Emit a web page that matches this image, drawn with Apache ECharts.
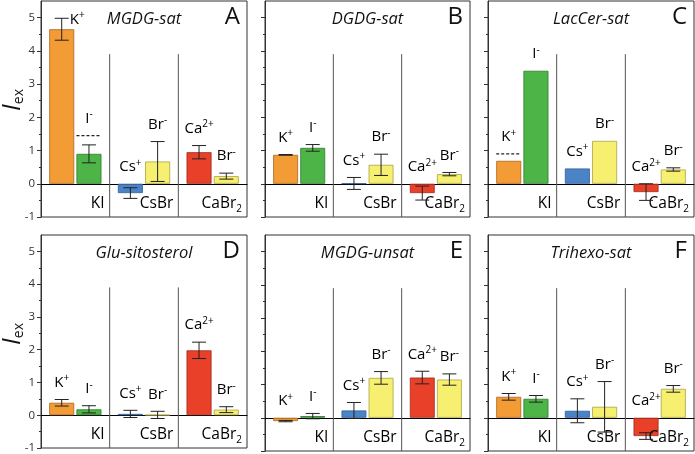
<!DOCTYPE html>
<html><head><meta charset="utf-8">
<script src="https://cdn.jsdelivr.net/npm/echarts@6/dist/echarts.min.js"></script>
<style>html,body{margin:0;padding:0;background:#fff}#c{width:695px;height:454px}</style>
</head><body><div id="c"></div>
<script>
// ---------- data ----------
const panels = ['MGDG-sat','DGDG-sat','LacCer-sat','Glu-sitosterol','MGDG-unsat','Trihexo-sat'];
const letters = ['A','B','C','D','E','F'];
const salts = ['KI','CsBr','CaBr2'];
const cations = ['K+','Cs+','Ca2+'];
const anions = ['I-','Br-','Br-'];
const cationVals = [
  [4.65, -0.28, 0.95],
  [0.87, 0.01, -0.28],
  [0.69, 0.46, -0.25],
  [0.38, 0.04, 1.98],
  [-0.10, 0.22, 1.21],
  [0.63, 0.21, -0.55]
];
const cationErr = [
  [0.33, 0.16, 0.20],
  [0.01, 0.18, 0.21],
  [0, 0, 0.25],
  [0.10, 0.11, 0.25],
  [0.02, 0.24, 0.19],
  [0.10, 0.36, 0.10]
];
const anionVals = [
  [0.90, 0.67, 0.23],
  [1.08, 0.57, 0.29],
  [3.40, 1.29, 0.43],
  [0.18, 0.01, 0.17],
  [0.05, 1.20, 1.15],
  [0.57, 0.33, 0.87]
];
const anionErr = [
  [0.27, 0.60, 0.09],
  [0.10, 0.32, 0.05],
  [0, 0, 0.05],
  [0.11, 0.11, 0.09],
  [0.08, 0.19, 0.17],
  [0.10, 0.76, 0.10]
];
const cationDashed = [[null,null,null],[null,null,null],[0.90,null,null],[null,null,null],[null,null,null],[null,null,null]];
const anionDashed  = [[1.45,null,null],[null,null,null],[null,null,null],[null,null,null],[null,null,null],[null,null,null]];
const yTicks = [-1, 0, 1, 2, 3, 4, 5];

// ---------- style ----------
const FONT = '"Open Sans", "Noto Sans", sans-serif';
const cationColors = ['#F39B35', '#4A84C7', '#E9402A'];
const cationBorders = ['#a8661f', '#34609a', '#a0291a'];
const anionColors = ['#4DB548', '#F6EF70', '#F6EF70'];
const anionBorders = ['#2f7a2c', '#aaa344', '#aaa344'];
const Y_MIN = -1, Y_MAX = 5.5, SEP_TOP = 3.9, GROUP_LABEL_Y = -0.6;
const BAR_FRAC = 0.364, GAP_FRAC = 0.09;
const colLeft = [41, 265, 488], colWidth = [206, 205, 206];
const rowTop = [1, 235], rowHeight = 216;

function ionRich(s) {
  const m = s.match(/^([A-Za-z]+)(.*)$/);
  return '{b|' + m[1] + '}{p|' + m[2] + '}';
}
function saltRich(s) {
  const m = s.match(/^([A-Za-z]+)(\d*)$/);
  return '{g|' + m[1] + '}' + (m[2] ? '{s|' + m[2] + '}' : '');
}
const ionRichStyle = {
  b: {fontSize: 15, fontFamily: FONT, color: '#111', lineHeight: 18},
  p: {fontSize: 10, fontFamily: FONT, color: '#111', verticalAlign: 'top', lineHeight: 18}
};
const saltRichStyle = {
  g: {fontSize: 15.5, fontFamily: FONT, color: '#111', lineHeight: 20},
  s: {fontSize: 10, fontFamily: FONT, color: '#111', verticalAlign: 'bottom', lineHeight: 17}
};

function makeRender(p) {
  return function (params, api) {
    const c = params.dataIndex;
    const center = api.coord([c, 0]);
    const catW = api.size([1, 0])[0];
    const barW = catW * BAR_FRAC, gapW = barW * GAP_FRAC;
    const off = (barW + gapW) / 2;
    const ch = [];
    if (c > 0) {
      const x = center[0] - catW / 2;
      ch.push({type: 'line', shape: {x1: x, y1: api.coord([c, SEP_TOP])[1], x2: x, y2: api.coord([c, Y_MIN])[1]},
        style: {stroke: '#555', lineWidth: 1}});
    }
    ch.push({type: 'text', x: center[0] + catW / 2 - 5, y: api.coord([c, GROUP_LABEL_Y])[1],
      style: {text: saltRich(salts[c]), rich: saltRichStyle, align: 'right', verticalAlign: 'middle'}});
    [0, 1].forEach(function (side) {
      const v = side ? anionVals[p][c] : cationVals[p][c];
      const e = side ? anionErr[p][c] : cationErr[p][c];
      const d = side ? anionDashed[p][c] : cationDashed[p][c];
      const name = side ? anions[c] : cations[c];
      const xc = center[0] + (side ? off : -off);
      if (e > 0) {
        const yt = api.coord([c, v + e])[1], yb = api.coord([c, v - e])[1];
        const cw = 7;
        ch.push({type: 'line', shape: {x1: xc, y1: yt, x2: xc, y2: yb}, style: {stroke: '#222', lineWidth: 1}});
        ch.push({type: 'line', shape: {x1: xc - cw, y1: yt, x2: xc + cw, y2: yt}, style: {stroke: '#222', lineWidth: 1}});
        ch.push({type: 'line', shape: {x1: xc - cw, y1: yb, x2: xc + cw, y2: yb}, style: {stroke: '#222', lineWidth: 1}});
      }
      if (d != null) {
        const yd = api.coord([c, d])[1];
        ch.push({type: 'line', shape: {x1: xc - barW / 2, y1: yd, x2: xc + barW / 2, y2: yd},
          style: {stroke: '#222', lineWidth: 1.3, lineDash: [3, 2]}});
      }
      let top = Math.max(0, v, v + e);
      if (d != null) top = Math.max(top, d);
      if (top > 4.5) {
        ch.push({type: 'text', x: xc + 8, y: api.coord([c, v + e])[1] + 1,
          style: {text: ionRich(name), rich: ionRichStyle, align: 'left', verticalAlign: 'middle'}});
      } else {
        ch.push({type: 'text', x: xc, y: api.coord([c, top])[1] - 17,
          style: {text: ionRich(name), rich: ionRichStyle, align: 'center', verticalAlign: 'middle'}});
      }
    });
    return {type: 'group', children: ch};
  };
}

const grid = [], xAxis = [], yAxis = [], series = [], graphic = [];
for (let p = 0; p < 6; p++) {
  const r = Math.floor(p / 3), col = p % 3;
  const left = colLeft[col], top = rowTop[r], w = colWidth[col];
  grid.push({left: left, top: top, width: w, height: rowHeight, show: true, borderColor: '#333', borderWidth: 1, containLabel: false});
  xAxis.push({type: 'category', gridIndex: p, data: salts, axisLabel: {show: false}, axisTick: {show: false},
    axisLine: {show: true, onZero: true, lineStyle: {color: '#000', width: 1}}, splitLine: {show: false}});
  yAxis.push({type: 'value', gridIndex: p, min: Y_MIN, max: Y_MAX, interval: 1,
    axisLine: {show: true, lineStyle: {color: '#333'}},
    axisTick: {show: true, length: 4, customValues: yTicks, lineStyle: {color: '#333'}},
    minorTick: {show: true, splitNumber: 2, length: 2, lineStyle: {color: '#333'}},
    axisLabel: {show: col === 0, customValues: yTicks, fontSize: 11.5, color: '#333', fontFamily: FONT, margin: 6},
    splitLine: {show: false}});
  series.push({type: 'bar', xAxisIndex: p, yAxisIndex: p, barWidth: (BAR_FRAC * 100) + '%', barGap: (GAP_FRAC * 100) + '%',
    data: cationVals[p].map(function (v, i) { return {value: v, itemStyle: {color: cationColors[i], borderColor: cationBorders[i], borderWidth: 0.8}}; }),
    z: 2});
  series.push({type: 'bar', xAxisIndex: p, yAxisIndex: p, barWidth: (BAR_FRAC * 100) + '%', barGap: (GAP_FRAC * 100) + '%',
    data: anionVals[p].map(function (v, i) { return {value: v, itemStyle: {color: anionColors[i], borderColor: anionBorders[i], borderWidth: 0.8}}; }),
    z: 2});
  series.push({type: 'custom', xAxisIndex: p, yAxisIndex: p, renderItem: makeRender(p),
    data: [[0, 0], [1, 0], [2, 0]], encode: {x: 0, y: 1}, z: 5, silent: true});
  graphic.push({type: 'text', x: left + w / 2, y: top + 18,
    style: {text: panels[p], fontSize: 16.5, fontStyle: 'italic', fontFamily: FONT, fill: '#111', align: 'center', verticalAlign: 'middle'}});
  graphic.push({type: 'text', x: left + w - 7, y: top + 16,
    style: {text: letters[p], fontSize: 24, fontFamily: FONT, fill: '#111', align: 'right', verticalAlign: 'middle'}});
}
[0, 1].forEach(function (r) {
  graphic.push({type: 'text', x: 13, y: rowTop[r] + 99, rotation: Math.PI / 2,
    style: {text: '{i|I}{s|ex}', align: 'center', verticalAlign: 'middle',
      rich: {i: {fontSize: 25, fontStyle: 'italic', fontFamily: FONT, fill: '#111', lineHeight: 26},
             s: {fontSize: 14, fontFamily: FONT, fill: '#111', verticalAlign: 'bottom', lineHeight: 22}}}});
});

const chart = echarts.init(document.getElementById('c'), null, {renderer: 'canvas'});
chart.setOption({animation: false, backgroundColor: '#fff', grid: grid, xAxis: xAxis, yAxis: yAxis, series: series, graphic: graphic});
</script></body></html>
